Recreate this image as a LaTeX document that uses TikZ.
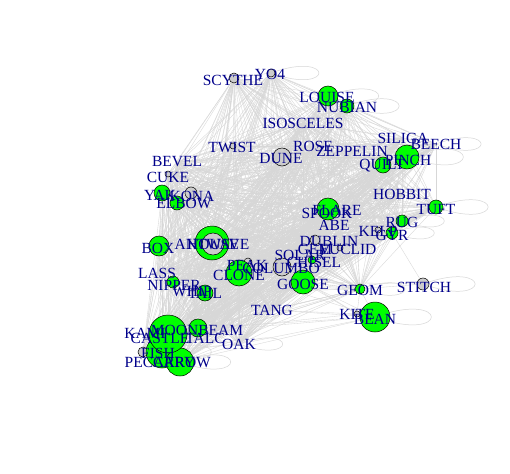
\documentclass[tikz,border=0pt]{standalone}
\usepackage{fontspec}
\setmainfont{Liberation Serif}
\pgfdeclarelayer{bg}
\pgfsetlayers{bg,main}
\definecolor{vgreen}{RGB}{0,255,0}
\definecolor{vgray}{RGB}{204,204,204}
\definecolor{labblue}{RGB}{0,0,139}
\definecolor{edgegray}{RGB}{215,215,215}
\tikzset{
  vert/.style={circle,draw=black,line width=0.5pt,inner sep=0pt},
  lab/.style={text=labblue,inner sep=0pt,font=\fontsize{15.5}{16}\selectfont},
  edgest/.style={draw=edgegray,line width=0.35pt},
  loopst/.style={draw=edgegray,line width=0.5pt},
}
\begin{document}
\begin{tikzpicture}[x=1pt,y=-1pt]
\useasboundingbox (0,0) rectangle (510,473);
% vertices
\foreach \n/\x/\y/\r/\c in {
scythe/234/78/5/vgray, yo4/271/73/4/vgray, louise/328/96/10/vgreen, nubian/347/106/7/vgreen,
twist/233/146/3/vgray, dune/282/157/9/vgray, pinch/407/157/12/vgreen, quilt/383/165/8/vgreen,
cuke/168/174/3/vgray, yak/162/193/8/vgreen, kona/191/193/6/vgray, elbow/177/203/7/vgreen,
tuft/436/207/7/vgreen, spook/328/209/11/vgreen, rug/402/221/6/vgreen, kelp/378/230/3/vgray,
gyr/392/233/6/vgreen, box/159/246/10/vgreen, anch/212/243/17/vgreen, house/213/244/11/vgray,
dublin/315/240/5/vgray, euclid/340/248/3/vgray, chisel/312/260/4/vgreen, peak/248/262/4/vgray,
columbo/282/267/9/vgray, clone/239/273/13/vgreen, nipper/173/282/6/vgreen, tail/205/293/8/vgreen,
goose/303/282/12/vgreen, geom/360/289/5/vgreen, stitch/423/284/6/vgray, kite/357/314/3/vgray,
bean/375/317/15/vgreen, fish/143/352/5/vgray, moonbeam/198/328/9/vgreen, bigb/162/352/16/vgreen,
bigc/180/362/14/vgreen, biga/168/334/19/vgreen}
{\node[vert,fill=\c,minimum size=2*\r] (\n) at (\x,\y) {};}
\foreach \n/\x/\y in {isosceles/303/123, rose/313/146, zeppelin/352/151, siliga/403/138,
beech/436/144, bevel/177/162, hobbit/402/194, flare/337/210, abe/334/225, solar/300/255,
lass/157/273, whip/192/290, tang/272/310, oak/239/344, talc/205/338}
{\coordinate (\n) at (\x,\y);}
% edges
\begin{pgfonlayer}{bg}
\fill[white] (0,0) rectangle (510,473);
\foreach \a [count=\i] in {scythe,yo4,louise,nubian,isosceles,twist,rose,dune,zeppelin,siliga,beech,pinch,quilt,bevel,cuke,yak,kona,elbow,hobbit,tuft,spook,flare,abe,rug,kelp,gyr,box,anch,house,dublin,euclid,solar,chisel,peak,columbo,clone,lass,nipper,whip,tail,goose,geom,tang,moonbeam,talc,oak,fish,biga,bigb,bigc}{
 \foreach \b [count=\j] in {scythe,yo4,louise,nubian,isosceles,twist,rose,dune,zeppelin,siliga,beech,pinch,quilt,bevel,cuke,yak,kona,elbow,hobbit,tuft,spook,flare,abe,rug,kelp,gyr,box,anch,house,dublin,euclid,solar,chisel,peak,columbo,clone,lass,nipper,whip,tail,goose,geom,tang,moonbeam,talc,oak,fish,biga,bigb,bigc}{
  \ifnum\i<\j \draw[edgest] (\a.center) -- (\b.center);\fi}}
\foreach \a/\b in {stitch/geom, stitch/gyr, stitch/goose, bean/kite, bean/geom, bean/goose,
 bean/tang, bean/biga, bean/moonbeam, bean/clone, bean/bigc, bean/oak, kite/geom, kite/goose,
 kite/tang, kite/biga, kite/columbo}
 {\draw[edgest] (\a.center) -- (\b.center);}
\foreach \n/\L in {yo4/68, louise/72, nubian/74, beech/64, pinch/80, tuft/74, rug/60, gyr/60,
 stitch/74, bean/80, geom/64, oak/62, bigc/72, bigb/70, hobbit/40}
 {\draw[loopst] (\n.center) .. controls +(20:\L) and +(-20:\L) .. (\n.center);}
\end{pgfonlayer}
% labels
\foreach \x/\y/\t in {233/80/SCYTHE, 270/74/YO4, 327/97/LOUISE, 347/107/NUBIAN, 303/123/ISOSCELES,
232/147/TWIST, 313/146/ROSE, 281/159/DUNE, 352/151/ZEPPELIN, 403/138/SILIGA, 436/144/BEECH,
408/160/PINCH, 382/166/QUILT, 177/162/BEVEL, 168/177/CUKE, 160/195/YAK, 192/196/KONA,
184/203/ELBOW, 402/194/HOBBIT, 436/209/TUFT, 337/210/FLARE, 327/213/SPOOK, 334/225/ABE,
402/222/RUG, 378/231/KELP, 392/235/GYR, 158/248/BOX, 212/244/ANTWAVE, 213/244/HOUSE,
329/241/DUBLIN, 348/249/EUCLID, 315/249/GEM, 300/255/SOLAR, 314/262/CHISEL, 247/265/PEAK,
281/268/COLUMBO, 239/275/CLONE, 157/273/LASS, 174/285/NIPPER, 192/292/WHIP, 205/293/TAIL,
303/284/GOOSE, 360/290/GEOM, 424/287/STITCH, 272/310/TANG, 357/314/KITE, 375/319/BEAN,
197/330/MOONBEAM, 205/338/TALC, 239/344/OAK, 145/333/KAMI, 160/338/CASTLE, 158/353/FISH,
160/362/PECCARY, 182/362/ARROW}
{\node[lab] at (\x,\y) {\t};}
\end{tikzpicture}
\end{document}
